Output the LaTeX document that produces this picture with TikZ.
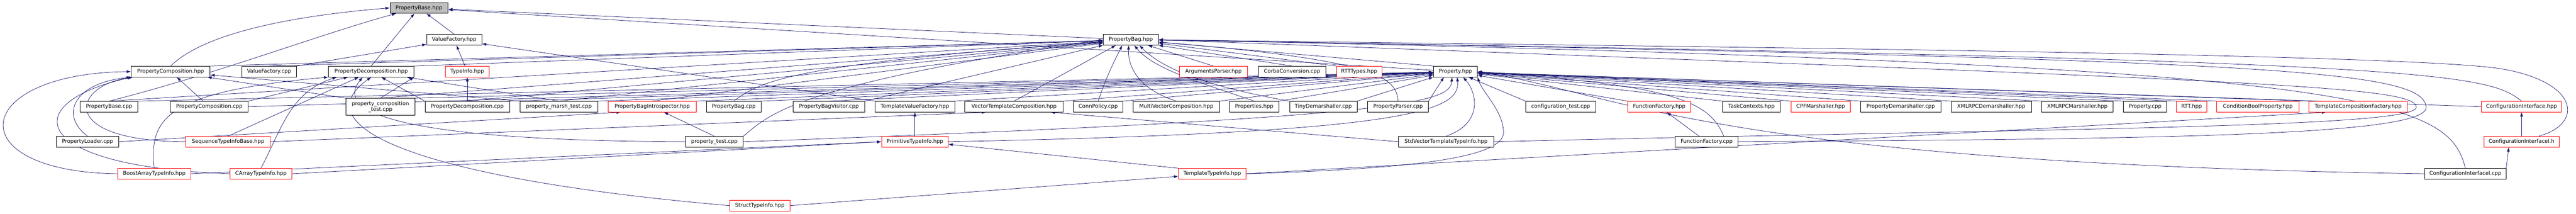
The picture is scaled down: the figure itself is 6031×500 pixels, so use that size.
\documentclass[tikz,border=0pt]{standalone}
\usepackage{fontspec}
\setmainfont{DejaVu Sans}
\usetikzlibrary{arrows.meta}
\usetikzlibrary{backgrounds}
\definecolor{edgeblue}{RGB}{25,25,112}
\definecolor{rootgray}{RGB}{191,191,191}

\begin{document}
\begin{tikzpicture}
	[x=1pt,y=-1pt,
	filebox/.style={draw=black, fill=white, line width=1pt, inner sep=0pt, minimum height=25pt, font=\fontsize{12.3}{14}\selectfont},
	truncbox/.style={filebox, draw=red},
	rootbox/.style={filebox, fill=rootgray},
	incl/.style={draw=edgeblue, line width=0.9pt, -{Latex[length=10pt,width=7pt]}}];

	\useasboundingbox (0,0) rectangle (6031,500);

	%Rank 0
	\node[rootbox, minimum width=136pt] (pbaseh) at (981,18.5) {PropertyBase.hpp};

	%Rank 1
	\node[filebox, minimum width=129pt] (vfh) at (1063.5,93) {ValueFactory.hpp};
	\node[filebox, minimum width=129pt] (pbagh) at (2647.5,93) {PropertyBag.hpp};

	%Rank 2
	\node[filebox, minimum width=185pt] (pcomph) at (399.5,167.5) {PropertyComposition.hpp};
	\node[filebox, minimum width=128pt] (vfcpp) at (630,167.5) {ValueFactory.cpp};
	\node[filebox, minimum width=200pt] (pdecomph) at (869,167.5) {PropertyDecomposition.hpp};
	\node[truncbox, minimum width=102pt] (typeinfo) at (1094,167.5) {TypeInfo.hpp};
	\node[truncbox, minimum width=160pt] (argparser) at (2841,167.5) {ArgumentsParser.hpp};
	\node[filebox, minimum width=158pt] (corba) at (3025,167.5) {CorbaConversion.cpp};
	\node[truncbox, minimum width=106pt] (rtttypes) at (3182,167.5) {RTTTypes.hpp};
	\node[filebox, minimum width=103pt] (prop) at (3407.5,167.5) {Property.hpp};

	%Rank 3
	\node[filebox, minimum width=135pt] (pbasecpp) at (255.5,249.5) {PropertyBase.cpp};
	\node[filebox, minimum width=182pt] (pcompcpp) at (490,249.5) {PropertyComposition.cpp};
	\node[filebox, minimum width=161pt, minimum height=40pt, align=center] (pcomptest) at (890.5,250) {property\_composition\\\_test.cpp};
	\node[filebox, minimum width=198pt] (pdecompcpp) at (1094,249.5) {PropertyDecomposition.cpp};
	\node[filebox, minimum width=183pt] (pmarshtest) at (1308.5,249.5) {property\_marsh\_test.cpp};
	\node[truncbox, minimum width=206pt] (pbintro) at (1527,249.5) {PropertyBagIntrospector.hpp};
	\node[filebox, minimum width=128pt] (pbagcpp) at (1718,249.5) {PropertyBag.cpp};
	\node[filebox, minimum width=167pt] (pbagvisitor) at (1940.5,249.5) {PropertyBagVisitor.cpp};
	\node[filebox, minimum width=186pt] (tvf) at (2142,249.5) {TemplateValueFactory.hpp};
	\node[filebox, minimum width=230pt] (vtc) at (2374,249.5) {VectorTemplateComposition.hpp};
	\node[filebox, minimum width=116pt] (connpolicy) at (2571,249.5) {ConnPolicy.cpp};
	\node[filebox, minimum width=202pt] (mvc) at (2754,249.5) {MultiVectorComposition.hpp};
	\node[filebox, minimum width=115pt] (properties) at (2936.5,249.5) {Properties.hpp};
	\node[filebox, minimum width=158pt] (tinydemarsh) at (3098,249.5) {TinyDemarshaller.cpp};
	\node[filebox, minimum width=142pt] (pparser) at (3273,249.5) {PropertyParser.cpp};
	\node[filebox, minimum width=164pt] (conftest) at (3654,249.5) {configuration\_test.cpp};
	\node[truncbox, minimum width=147pt] (ffh) at (3884.5,249.5) {FunctionFactory.hpp};
	\node[filebox, minimum width=135pt] (taskctx) at (4100.5,249.5) {TaskContexts.hpp};
	\node[truncbox, minimum width=139pt] (cpfmarsh) at (4262.5,249.5) {CPFMarshaller.hpp};
	\node[filebox, minimum width=188pt] (pdemarsh) at (4450,249.5) {PropertyDemarshaller.cpp};
	\node[filebox, minimum width=188pt] (xmlrpcdemarsh) at (4662,249.5) {XMLRPCDemarshaller.hpp};
	\node[filebox, minimum width=167pt] (xmlrpcmarsh) at (4863.5,249.5) {XMLRPCMarshaller.hpp};
	\node[filebox, minimum width=102pt] (propcpp) at (5022,249.5) {Property.cpp};
	\node[truncbox, minimum width=70pt] (rtth) at (5131,249.5) {RTT.hpp};
	\node[truncbox, minimum width=192pt] (condbool) at (5286,249.5) {ConditionBoolProperty.hpp};
	\node[truncbox, minimum width=230pt] (tcf) at (5521,249.5) {TemplateCompositionFactory.hpp};
	\node[truncbox, minimum width=187pt] (confif) at (5903.5,249.5) {ConfigurationInterface.hpp};

	%Rank 4
	\node[filebox, minimum width=146pt] (ploader) at (205,331.5) {PropertyLoader.cpp};
	\node[truncbox, minimum width=198pt] (seqtib) at (534,331.5) {SequenceTypeInfoBase.hpp};
	\node[filebox, minimum width=135pt] (ptest) at (1672.5,331.5) {property\_test.cpp};
	\node[truncbox, minimum width=156pt] (primti) at (2142,331.5) {PrimitiveTypeInfo.hpp};
	\node[filebox, minimum width=223pt] (stdvec) at (3385.5,331.5) {StdVectorTemplateTypeInfo.hpp};
	\node[filebox, minimum width=147pt] (ffcpp) at (3995.5,331.5) {FunctionFactory.cpp};
	\node[truncbox, minimum width=177pt] (confifih) at (5903.5,331.5) {ConfigurationInterfaceI.h};

	%Rank 5
	\node[truncbox, minimum width=172pt] (boostarr) at (361,406.5) {BoostArrayTypeInfo.hpp};
	\node[truncbox, minimum width=144pt] (carray) at (611,406.5) {CArrayTypeInfo.hpp};
	\node[truncbox, minimum width=158pt] (templti) at (2838,406.5) {TemplateTypeInfo.hpp};
	\node[filebox, minimum width=190pt] (confifcpp) at (5772,406.5) {ConfigurationInterfaceI.cpp};

	%Rank 6
	\node[truncbox, minimum width=140pt] (structti) at (1779,481) {StructTypeInfo.hpp};

	\begin{scope}[on background layer]
	\fill[white] (0,0) rectangle (6031,500);

	%PropertyBase.hpp
	\draw[incl] (pcomph.north) .. controls (470,85) and (650,40) .. (pbaseh.west);
	\draw[incl] (pbasecpp.north) .. controls (500,175) and (750,80) .. ([xshift=15pt]pbaseh.south west);
	\draw[incl] (pdecomph.north) -- (pbaseh);
	\draw[incl] (vfh.north) -- (pbaseh);
	\draw[incl] (pbagh) -- (pbaseh);
	\draw[incl] (prop) -- (pbaseh);

	%ValueFactory.hpp
	\draw[incl] (vfcpp.north east) -- (vfh);
	\draw[incl] (typeinfo) -- (vfh);
	\draw[incl] (tvf.north west) -- (vfh);

	%TypeInfo.hpp
	\draw[incl] (pdecompcpp) -- (typeinfo);

	%PropertyComposition.hpp
	\draw[incl] (boostarr.west) .. controls (-100,401) and (-70,172) .. (pcomph.west);
	\draw[incl] (ploader.north) .. controls (140,270) and (170,195) .. (pcomph.south west);
	\draw[incl] (seqtib.west) .. controls (130,330) and (170,200) .. ([xshift=5pt]pcomph.south west);
	\draw[incl] (carray.west) .. controls (60,390) and (40,240) .. ([xshift=3pt]pcomph.south west);
	\draw[incl] (pcompcpp) -- (pcomph);
	\draw[incl] (pcomptest.north west) -- (pcomph);
	\draw[incl] (pmarshtest.north west) -- (pcomph);

	%PropertyDecomposition.hpp
	\draw[incl] (pcompcpp.north east) -- (pdecomph);
	\draw[incl] (boostarr.north) .. controls (350,280) and (380,215) .. (pdecomph.south west);
	\draw[incl] (seqtib.north) -- (pdecomph);
	\draw[incl] (carray.north) .. controls (660,300) and (680,215) .. ([xshift=20pt]pdecomph.south west);
	\draw[incl] (structti.west) .. controls (1000,420) and (700,300) .. (pdecomph.south);
	\draw[incl] (ptest.west) .. controls (1100,330) and (760,290) .. ([xshift=-20pt]pdecomph.south);
	\draw[incl] (pdecompcpp.north west) -- (pdecomph);
	\draw[incl] (pcomptest.north) -- (pdecomph.south east);
	\draw[incl] (pmarshtest.north) -- (pdecomph);

	%PropertyBagIntrospector.hpp
	\draw[incl] (ploader.east) -- ([xshift=30pt]pbintro.south west);
	\draw[incl] (ptest.north) -- (pbintro);

	%TemplateValueFactory.hpp
	\draw[incl] (primti) -- (tvf);

	%VectorTemplateComposition.hpp
	\draw[incl] (stdvec.west) -- ([xshift=-30pt]vtc.south east);
	\draw[incl] (seqtib.east) -- ([xshift=50pt]vtc.south west);

	%PrimitiveTypeInfo.hpp
	\draw[incl] (boostarr.east) -- (primti.west);
	\draw[incl] (carray.east) -- (primti.west);
	\draw[incl] (templti.north west) -- ([yshift=-6pt]primti.east);

	%TemplateTypeInfo.hpp
	\draw[incl] (structti.east) -- ([yshift=-6pt]templti.west);

	%FunctionFactory.hpp, TemplateCompositionFactory.hpp, ConfigurationInterface
	\draw[incl] (ffcpp) -- (ffh);
	\draw[incl] (templti.east) -- ([xshift=-75pt]tcf.south);
	\draw[incl] (confifih) -- (confif);
	\draw[incl] (confifcpp.north east) -- ([xshift=-30pt]confifih.south);

	%PropertyBag.hpp
	\draw[incl] (pcomph.north east) -- (pbagh);
	\draw[incl] (vfcpp.north) -- (pbagh);
	\draw[incl] (pdecomph.north east) -- (pbagh);
	\draw[incl] (pbasecpp.north) -- (pbagh);
	\draw[incl] (pcomptest.north) -- (pbagh);
	\draw[incl] (pdecompcpp.north) -- (pbagh);
	\draw[incl] (pmarshtest.north) -- (pbagh);
	\draw[incl] (pbintro.north) -- (pbagh);
	\draw[incl] (pbagcpp.north) .. controls (1780,190) and (1850,150) .. (pbagh);
	\draw[incl] (pbagvisitor.north east) -- (pbagh.south west);
	\draw[incl] (ptest.north east) .. controls (1800,270) and (1850,200) .. (pbagh.west);
	\draw[incl] (vtc.north) -- ([xshift=-35pt]pbagh.south);
	\draw[incl] (connpolicy.north) .. controls (2590,180) and (2610,140) .. ([xshift=-20pt]pbagh.south);
	\draw[incl] (mvc.north) .. controls (2670,210) and (2640,160) .. ([xshift=-5pt]pbagh.south);
	\draw[incl] (properties.north) .. controls (2800,190) and (2700,160) .. ([xshift=8pt]pbagh.south);
	\draw[incl] (tinydemarsh.north west) .. controls (2900,215) and (2740,180) .. ([xshift=20pt]pbagh.south);
	\draw[incl] (argparser.north) -- ([xshift=40pt]pbagh.south);
	\draw[incl] (corba.north) -- (pbagh.south east);
	\draw[incl] (rtttypes.north west) -- (pbagh);
	\draw[incl] (prop.north west) -- (pbagh);
	\draw[incl] (pparser.north) .. controls (3270,180) and (3220,140) .. (pbagh);
	\draw[incl] (confif.north) .. controls (5820,170) and (5700,140) .. (pbagh);
	\draw[incl] (ffcpp.east) .. controls (5000,325) and (5690,320) .. (5680,250) .. controls (5670,160) and (5300,140) .. (pbagh.east);
	\draw[incl] (stdvec.east) .. controls (4800,300) and (5665,300) .. (5657,250) .. controls (5650,200) and (5300,190) .. (pbagh.east);
	\draw[incl] ([xshift=40pt]confifih.north) .. controls (6050,290) and (6040,190) .. (5850,160) .. controls (5600,125) and (4000,110) .. (pbagh.east);
	\draw[incl] (confifcpp.north) .. controls (5730,230) and (5560,150) .. (pbagh.east);

	%Property.hpp
	\draw[incl] (pbasecpp.north east) -- (prop);
	\draw[incl] (pcompcpp.east) -- (prop);
	\draw[incl] (pcomptest.north east) -- (prop);
	\draw[incl] (pdecompcpp.north east) -- (prop);
	\draw[incl] (pmarshtest.north east) -- (prop);
	\draw[incl] (pbintro.north east) -- (prop);
	\draw[incl] (pbagcpp.north east) -- (prop);
	\draw[incl] (pbagvisitor.north) -- (prop);
	\draw[incl] (tvf.north east) -- (prop);
	\draw[incl] (vtc.north east) -- (prop);
	\draw[incl] (connpolicy.north east) -- (prop);
	\draw[incl] (mvc.north east) -- (prop);
	\draw[incl] (properties.north east) -- (prop);
	\draw[incl] (tinydemarsh.north east) -- (prop.south west);
	\draw[incl] (pparser.north east) -- ([xshift=25pt]prop.south west);
	\draw[incl] (ptest.east) .. controls (3300,275) and (3395,240) .. ([xshift=-8pt]prop.south);
	\draw[incl] (primti.east) .. controls (3300,310) and (3420,260) .. ([xshift=4pt]prop.south);
	\draw[incl] (stdvec.north) .. controls (3470,290) and (3460,220) .. ([xshift=18pt]prop.south);
	\draw[incl] (templti.east) .. controls (3300,395) and (3520,370) .. (3520,310) .. controls (3520,260) and (3470,215) .. (prop.south east);
	\draw[incl] (conftest.north west) -- (prop);
	\draw[incl] (ffh.north west) -- (prop);
	\draw[incl] ([xshift=40pt]ffcpp.north) .. controls (4000,230) and (3900,200) .. (prop.east);
	\draw[incl] (taskctx.north west) -- (prop);
	\draw[incl] (cpfmarsh.north west) -- (prop);
	\draw[incl] (pdemarsh.north west) -- (prop);
	\draw[incl] (xmlrpcdemarsh.north west) -- (prop);
	\draw[incl] (xmlrpcmarsh.north west) -- (prop);
	\draw[incl] (propcpp.north west) -- (prop);
	\draw[incl] (rtth.north west) -- (prop);
	\draw[incl] (condbool.north west) -- (prop);
	\draw[incl] (tcf.north west) -- (prop);
	\draw[incl] (confif.west) -- (prop);
	\draw[incl] (confifcpp.west) .. controls (4000,380) and (3800,220) .. (prop.east);
	\end{scope}
\end{tikzpicture}
\end{document}
